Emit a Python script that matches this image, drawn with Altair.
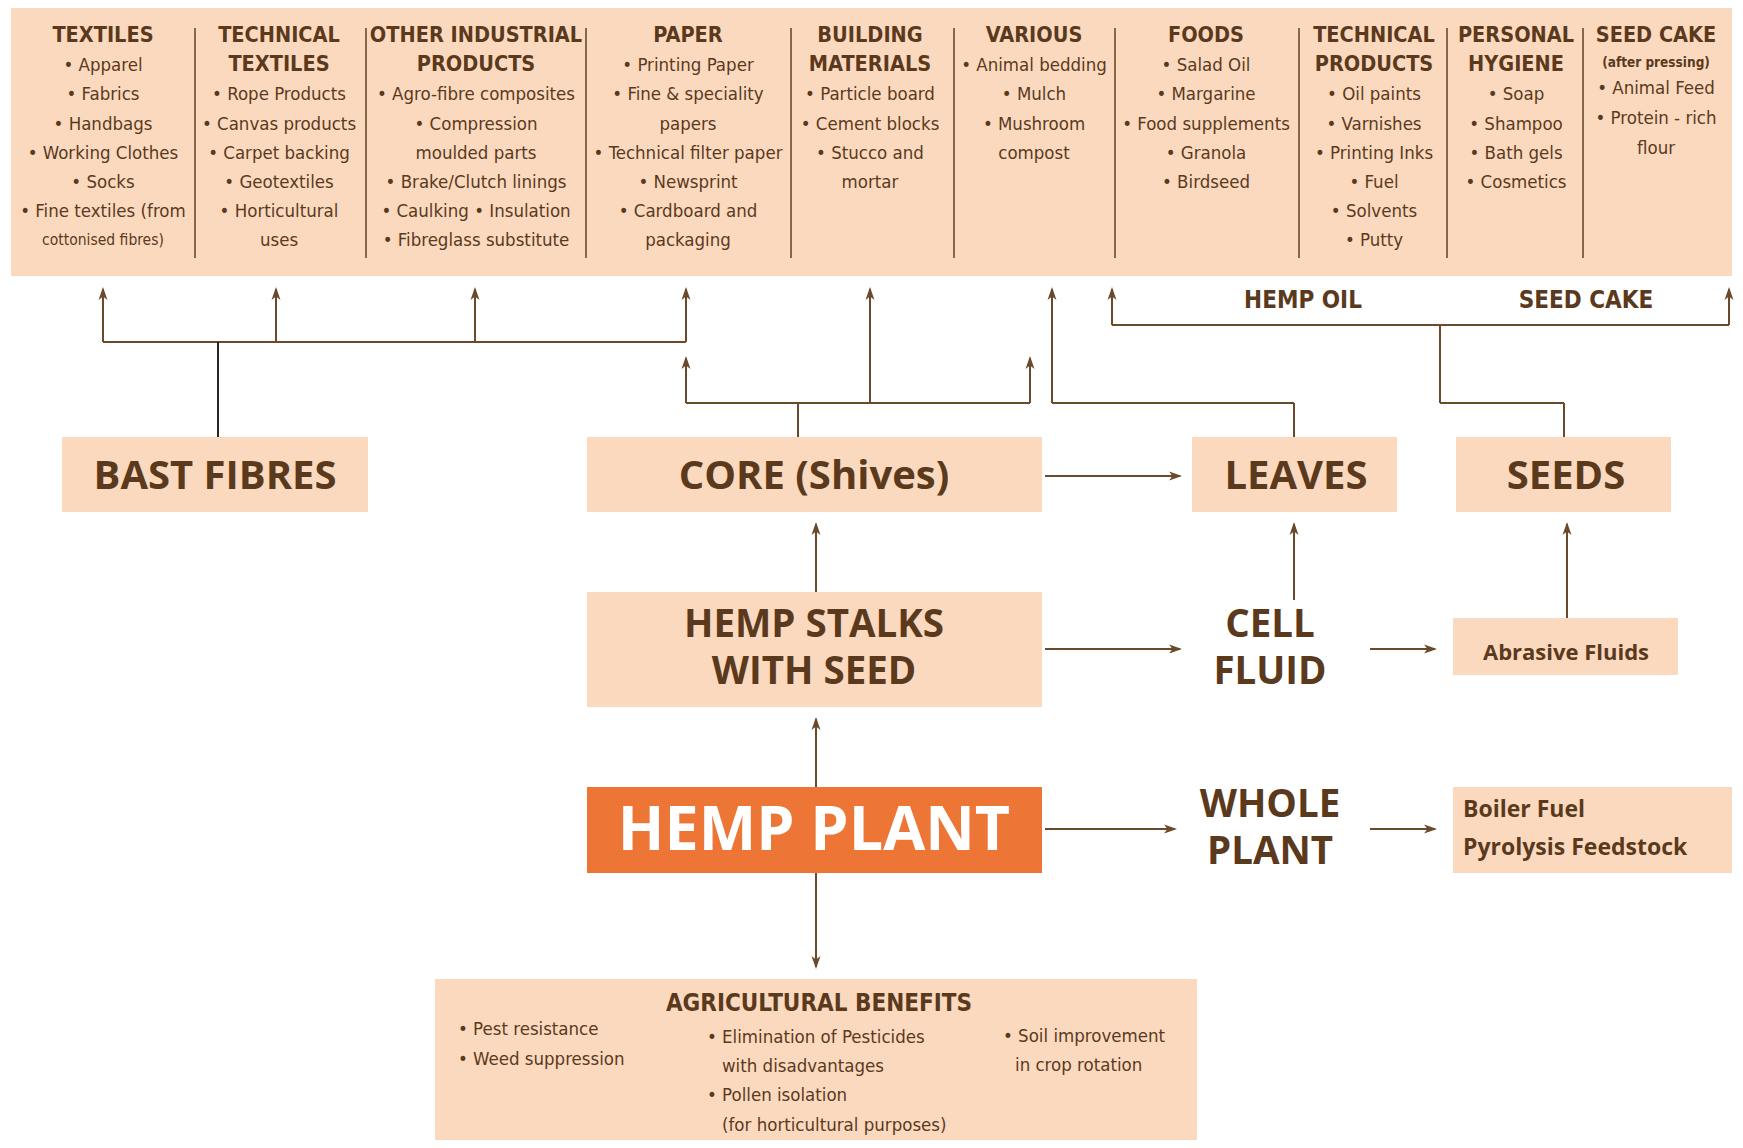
import altair as alt
import pandas as pd

# ---------------- content ----------------
col_titles = [
    ["TEXTILES"],
    ["TECHNICAL", "TEXTILES"],
    ["OTHER INDUSTRIAL", "PRODUCTS"],
    ["PAPER"],
    ["BUILDING", "MATERIALS"],
    ["VARIOUS"],
    ["FOODS"],
    ["TECHNICAL", "PRODUCTS"],
    ["PERSONAL", "HYGIENE"],
    ["SEED CAKE"],
]
col_items = [
    ["• Apparel", "• Fabrics", "• Handbags", "• Working Clothes", "• Socks",
     "• Fine textiles (from", "cottonised fibres)"],
    ["• Rope Products", "• Canvas products", "• Carpet backing", "• Geotextiles",
     "• Horticultural", "uses"],
    ["• Agro-fibre composites", "• Compression", "moulded parts",
     "• Brake/Clutch linings", "• Caulking   • Insulation", "• Fibreglass substitute"],
    ["• Printing Paper", "• Fine & speciality", "papers", "• Technical filter paper",
     "• Newsprint", "• Cardboard and", "packaging"],
    ["• Particle board", "• Cement blocks", "• Stucco and", "mortar"],
    ["• Animal bedding", "• Mulch", "• Mushroom", "compost"],
    ["• Salad Oil", "• Margarine", "• Food supplements", "• Granola", "• Birdseed"],
    ["• Oil paints", "• Varnishes", "• Printing Inks", "• Fuel", "• Solvents", "• Putty"],
    ["• Soap", "• Shampoo", "• Bath gels", "• Cosmetics"],
    ["• Animal Feed", "• Protein - rich", "flour"],
]
seedcake_note = "(after pressing)"
small_items = ["cottonised fibres)"]

big_labels = ["BAST FIBRES", "CORE (Shives)", "LEAVES", "SEEDS"]
two_line_labels = ["HEMP STALKS", "WITH SEED", "CELL", "FLUID", "WHOLE", "PLANT"]
main_label = "HEMP PLANT"
flow_labels = ["HEMP OIL", "SEED CAKE"]
mid_labels = ["Abrasive Fluids"]
fuel_labels = ["Boiler Fuel", "Pyrolysis Feedstock"]
agri_title = "AGRICULTURAL BENEFITS"
agri_items = ["• Pest resistance", "• Weed suppression",
              "• Elimination of Pesticides", "with disadvantages",
              "• Pollen isolation", "(for horticultural purposes)",
              "• Soil improvement", "in crop rotation"]

# ---------------- layout (pixel space of the picture) ----------------
BROWN = "#5a391d"
LINE = "#6b4a2c"
DARK = "#2b2420"
PEACH = "#fbd9bf"
ORANGE = "#ed7637"

col_x = [103, 279, 476, 688, 870, 1034, 1206, 1374, 1516, 1656]
divider_x = [195, 366, 586, 791, 954, 1115, 1299, 1447, 1583]
line_y0, line_dy = 36, 29.2

rects = pd.DataFrame({
    "x":  [11, 62, 587, 1192, 1456, 587, 1453, 587, 1453, 435],
    "x2": [1732, 368, 1042, 1397, 1671, 1042, 1678, 1042, 1732, 1197],
    "y":  [8, 437, 437, 437, 437, 592, 618, 787, 787, 979],
    "y2": [276, 512, 512, 512, 512, 707, 675, 873, 873, 1140],
    "fill": [PEACH] * 7 + [ORANGE] + [PEACH] * 2,
})

segs = []
for dx in divider_x:
    segs.append((dx, 28, dx, 258, LINE, 1.6))
segs += [
    # bast fibres distribution
    (103, 342, 686, 342, LINE, 2), (103, 342, 103, 289, LINE, 2),
    (276, 342, 276, 289, LINE, 2), (475, 342, 475, 289, LINE, 2),
    (686, 342, 686, 289, LINE, 2), (218, 342, 218, 437, DARK, 2),
    # core distribution
    (686, 403, 1030, 403, LINE, 2), (686, 403, 686, 358, LINE, 2),
    (1030, 403, 1030, 358, LINE, 2), (870, 403, 870, 289, LINE, 2),
    (798, 403, 798, 437, LINE, 2),
    # leaves
    (1294, 437, 1294, 403, LINE, 2), (1294, 403, 1052, 403, LINE, 2),
    (1052, 403, 1052, 289, LINE, 2),
    # seeds
    (1564, 437, 1564, 403, LINE, 2), (1564, 403, 1440, 403, LINE, 2),
    (1440, 403, 1440, 325, LINE, 2), (1112, 325, 1729, 325, LINE, 2),
    (1112, 325, 1112, 289, LINE, 2), (1729, 325, 1729, 289, LINE, 2),
    # middle flows
    (1045, 476, 1180, 476, LINE, 2), (816, 592, 816, 524, LINE, 2),
    (1294, 600, 1294, 524, LINE, 2), (1567, 618, 1567, 524, LINE, 2),
    (1045, 649, 1180, 649, LINE, 2), (1370, 649, 1435, 649, LINE, 2),
    (816, 787, 816, 719, LINE, 2), (1045, 829, 1175, 829, LINE, 2),
    (1370, 829, 1435, 829, LINE, 2), (816, 873, 816, 967, LINE, 2),
]
segs = pd.DataFrame(segs, columns=["x", "y", "x2", "y2", "c", "w"])

heads = pd.DataFrame([
    (103, 287, 0), (276, 287, 0), (475, 287, 0), (686, 287, 0),
    (686, 356, 0), (1030, 356, 0), (870, 287, 0), (1052, 287, 0),
    (1112, 287, 0), (1729, 287, 0),
    (1182, 476, 90), (816, 522, 0), (1294, 522, 0), (1567, 522, 0),
    (1182, 649, 90), (1437, 649, 90), (816, 717, 0), (1177, 829, 90),
    (1437, 829, 90), (816, 969, 180),
], columns=["x", "y", "angle"])

# top panel texts
hdr_rows, item_rows, small_rows = [], [], []
for i, (titles, items) in enumerate(zip(col_titles, col_items)):
    k = 0
    for t in titles:
        hdr_rows.append((col_x[i], line_y0 + line_dy * k, t, 21.5))
        k += 1
    if i == 9:
        small_rows.append((col_x[i], 63, seedcake_note, 13.5))
        for j, t in enumerate(items):
            item_rows.append((col_x[i], 88 + 30 * j, t, 18.5))
        continue
    for t in items:
        fs = 15.5 if t in small_items else 18.5
        item_rows.append((col_x[i], line_y0 + line_dy * k, t, fs))
        k += 1
hdr_rows.append((819, 1004, agri_title, 24))
hdr_rows.append((1303, 301, flow_labels[0], 24))
hdr_rows.append((1586, 301, flow_labels[1], 24))

hdr_df = pd.DataFrame(hdr_rows, columns=["x", "y", "t", "fs"])
item_df = pd.DataFrame(item_rows, columns=["x", "y", "t", "fs"])
small_df = pd.DataFrame(small_rows, columns=["x", "y", "t", "fs"])

big_pos = [(215, 477), (814, 477), (1296, 477), (1566, 477)]
big_df = pd.DataFrame({"x": [p[0] for p in big_pos], "y": [p[1] for p in big_pos],
                       "t": big_labels, "fs": 40})
two_pos = [(814, 625), (814, 672), (1270, 625), (1270, 672),
           (1270, 805), (1270, 852)]
two_df = pd.DataFrame({"x": [p[0] for p in two_pos], "y": [p[1] for p in two_pos],
                       "t": two_line_labels, "fs": 38.5})
main_df = pd.DataFrame({"x": [814], "y": [832], "t": [main_label], "fs": [61]})
mid_df = pd.DataFrame({"x": [1566], "y": [653], "t": mid_labels, "fs": [22]})
fuel_df = pd.DataFrame({"x": [1463, 1463], "y": [810, 848], "t": fuel_labels, "fs": [23, 23]})
agri_pos = [(458, 1029), (458, 1059), (707, 1037), (722, 1066),
            (707, 1095), (722, 1125), (1003, 1036), (1015, 1065)]
agri_df = pd.DataFrame({"x": [p[0] for p in agri_pos], "y": [p[1] for p in agri_pos],
                        "t": agri_items, "fs": 18.5})

# ---------------- chart ----------------
xs = alt.Scale(domain=[8, 1735], nice=False, zero=False)
ys = alt.Scale(domain=[8, 1140], nice=False, zero=False, reverse=True)
X = lambda f="x": alt.X(f"{f}:Q", scale=xs, axis=None)
Y = lambda f="y": alt.Y(f"{f}:Q", scale=ys, axis=None)

rect_layer = alt.Chart(rects).mark_rect().encode(
    x=X(), x2="x2:Q", y=Y(), y2="y2:Q", color=alt.Color("fill:N", scale=None))

seg_layer = alt.Chart(segs).mark_rule().encode(
    x=X(), x2="x2:Q", y=Y(), y2="y2:Q",
    color=alt.Color("c:N", scale=None), strokeWidth=alt.StrokeWidth("w:Q", scale=None))

ARROW = "M0,0L1.5,4.3L0,3.2L-1.5,4.3Z"
head_layer = alt.Chart(heads).mark_point(
    shape=ARROW, filled=True, size=36, color=LINE, opacity=1, strokeWidth=0
).encode(x=X(), y=Y(), angle=alt.Angle("angle:Q", scale=None))

NARROW = "Liberation Sans Narrow, DejaVu Sans Condensed, sans-serif"
WIDE = "Open Sans, Lato, sans-serif"


def txt(df, font, weight, color=BROWN, align="center"):
    return alt.Chart(df).mark_text(
        font=font, fontWeight=weight, align=align, baseline="middle", color=color
    ).encode(x=X(), y=Y(), text="t:N", size=alt.Size("fs:Q", scale=None))


chart = alt.layer(
    rect_layer, seg_layer, head_layer,
    txt(hdr_df, NARROW, "bold"),
    txt(item_df, NARROW, "normal"),
    txt(small_df, NARROW, "bold"),
    txt(agri_df, NARROW, "normal", align="left"),
    txt(big_df, WIDE, "bold"),
    txt(two_df, WIDE, "bold"),
    txt(main_df, WIDE, "bold", color="#ffffff"),
    txt(mid_df, WIDE, "bold"),
    txt(fuel_df, WIDE, "bold", align="left"),
).properties(
    width=1727, height=1132, padding=0,
    autosize=alt.AutoSizeParams(type="none"), background="#ffffff",
).configure_view(stroke=None)

chart.save("out.html", embed_options={"renderer": "svg", "actions": False})
